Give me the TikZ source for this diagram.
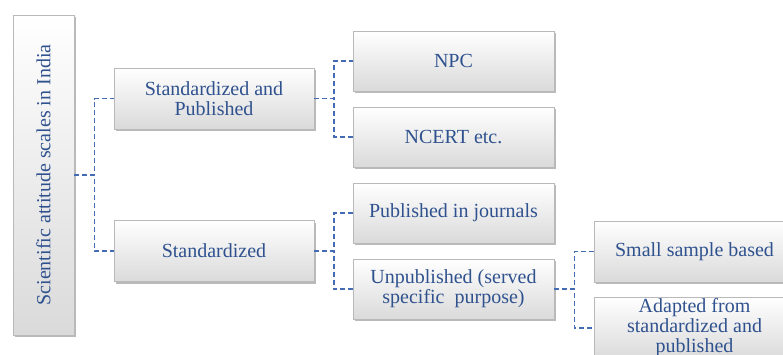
\documentclass[tikz,border=0pt]{standalone}
\usepackage{fontspec}
\setmainfont{Liberation Serif}
\usetikzlibrary{shadows}
\definecolor{txtblue}{RGB}{47,82,143}
\definecolor{lineblue}{RGB}{68,108,180}
\definecolor{boxedge}{RGB}{185,185,185}
\definecolor{boxbot}{RGB}{218,218,218}
\tikzset{
  box/.style={draw=boxedge, line width=0.6pt, top color=white, bottom color=boxbot,
    minimum width=200pt, minimum height=61pt, inner sep=2pt, align=center,
    text=txtblue, font=\fontsize{20}{20}\selectfont,
    drop shadow={shadow xshift=1.5pt, shadow yshift=-2pt, fill=black!45, opacity=0.6}},
  conn/.style={draw=lineblue, line width=1.4pt, dash pattern=on 5pt off 3pt}
}
\begin{document}
\begin{tikzpicture}[x=1pt,y=-1pt]
\useasboundingbox (0,0) rectangle (783,354);
\fill[white] (0,0) rectangle (783,354);
\node[box, minimum width=61pt, minimum height=320pt] (root) at (43.5,175)
  {\rotatebox{90}{Scientific attitude scales in India}};
\node[box] (sp) at (214,98.5) {Standardized and\\Published};
\node[box] (st) at (214,251) {Standardized};
\node[box, minimum width=201pt, minimum height=60pt] (npc) at (453.5,61) {NPC};
\node[box, minimum width=201pt, minimum height=60pt] (ncert) at (453.5,137) {NCERT etc.};
\node[box, minimum width=201pt, minimum height=60pt] (pij) at (453.5,213) {Published in journals};
\node[box, minimum width=201pt, minimum height=60pt] (unp) at (453.5,289) {Unpublished (served\\specific\ \ purpose)};
\node[box, minimum width=201pt, minimum height=61pt] (ssb) at (694.5,251.5) {Small sample based};
\node[box, minimum width=201pt, minimum height=60pt] (adp) at (694.5,328) {Adapted from\\standardized and\\published};
\draw[conn] (root.east) -- ++(20,0) |- (sp.west);
\draw[conn] (root.east) -- ++(20,0) |- (st.west);
\draw[conn] (sp.east) -- ++(19.5,0) |- (npc.west);
\draw[conn] (sp.east) -- ++(19.5,0) |- (ncert.west);
\draw[conn] (st.east) -- ++(19.5,0) |- (pij.west);
\draw[conn] (st.east) -- ++(19.5,0) |- (unp.west);
\draw[conn] (unp.east) -- ++(20,0) |- (ssb.west);
\draw[conn] (unp.east) -- ++(20,0) |- (adp.west);
\end{tikzpicture}
\end{document}
